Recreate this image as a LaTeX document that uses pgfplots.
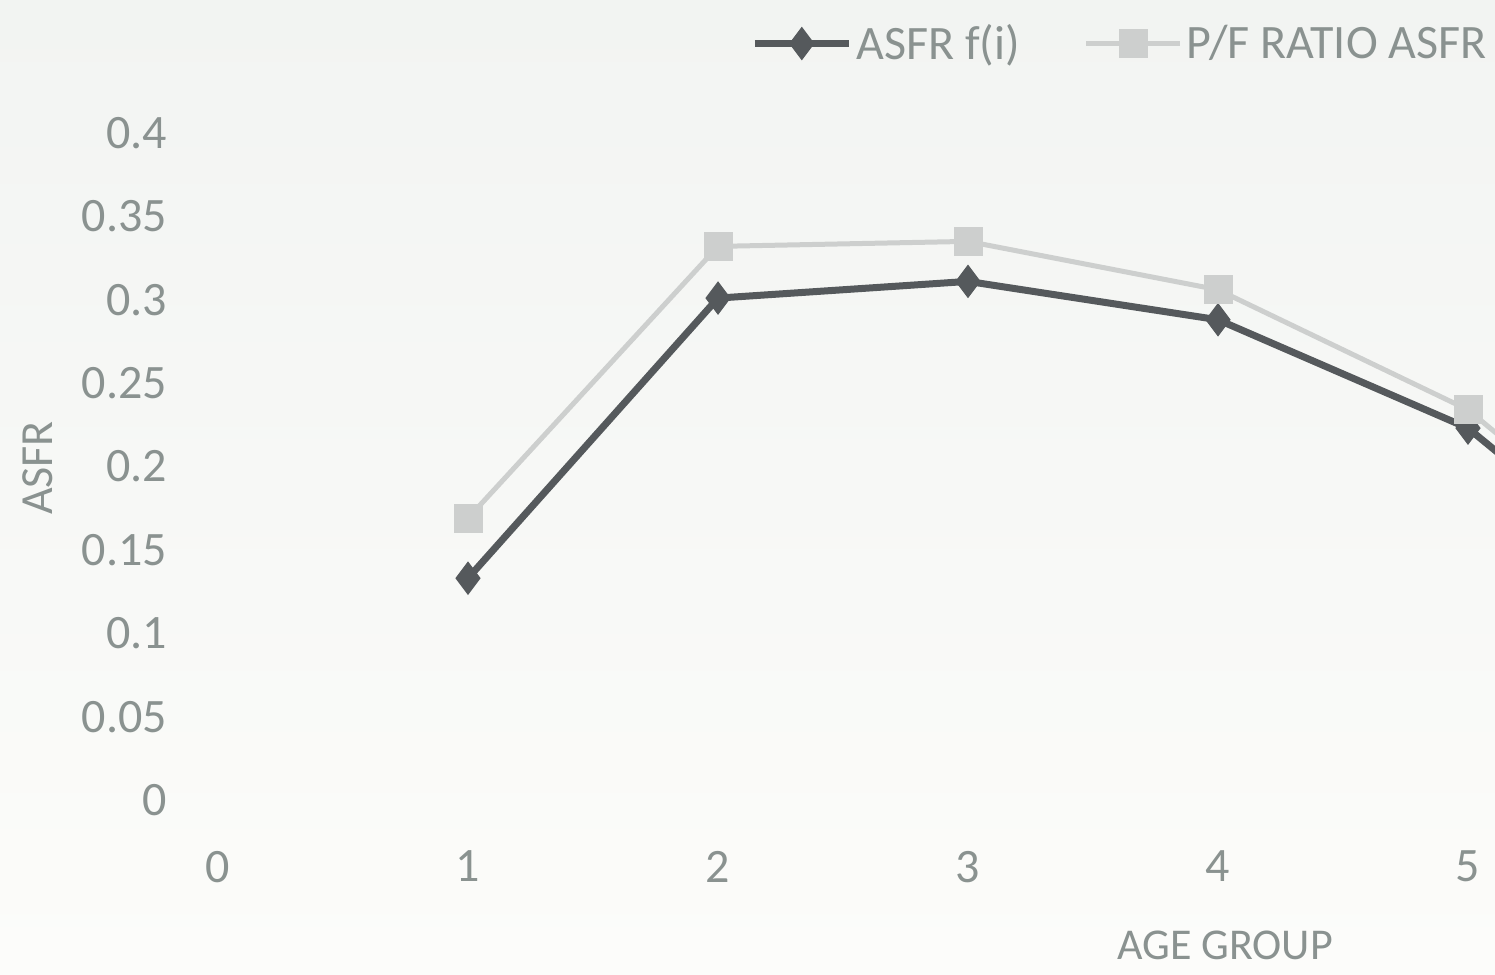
\documentclass[border=0pt]{standalone}
\usepackage{pgfplots}
\pgfplotsset{compat=1.18}
\usepackage{fontspec}
\setmainfont{Carlito}
\definecolor{txt}{HTML}{8A9290}
\definecolor{asfr}{HTML}{55595C}
\definecolor{pf}{HTML}{CDCFCE}
\definecolor{bgtop}{HTML}{F2F4F2}
\definecolor{bgbot}{HTML}{FCFCFA}
\begin{document}
\begin{tikzpicture}
  \useasboundingbox (0pt,0pt) rectangle (747.5pt,487.5pt);
  \shade[top color=bgtop, bottom color=bgbot] (0pt,0pt) rectangle (747.5pt,487.5pt);
  \begin{axis}[
    at={(109pt,87.5pt)}, anchor=south west,
    scale only axis, width=638.5pt, height=333.5pt,
    xmin=0, xmax=5.108, ymin=0, ymax=0.4,
    axis line style={draw=none}, major tick style={draw=none},
    xtick={0,1,2,3,4,5}, ytick={0,0.05,...,0.4},
    yticklabels={0,0.05,0.1,0.15,0.2,0.25,0.3,0.35,0.4},
    /pgf/number format/assume math mode=true,
    ticklabel style={font=\fontsize{24}{28}\selectfont, text=txt},
    xticklabel style={anchor=north, yshift=-22pt},
    yticklabel style={anchor=east, xshift=-22pt},
    legend style={at={(1,1)}, anchor=south east, yshift=31pt, xshift=1pt,
      draw=none, fill=none, font=\fontsize{24}{28}\selectfont, text=txt,
      legend columns=2, /tikz/every even column/.append style={column sep=30pt}},
    legend image code/.code={
      \draw[#1] (0cm,0cm) -- (1.65cm,0cm);
      \draw[#1, only marks] plot coordinates {(0.825cm,0cm)};
    },
  ]
    \addplot[asfr, line width=3.5pt, mark=diamond*, mark size=8pt,
      mark options={fill=asfr, draw=asfr, line width=0.5pt}]
      coordinates {(1,0.133) (2,0.301) (3,0.311) (4,0.288) (5,0.223) (6,0.100)};
    \addlegendentry{ASFR f(i)}
    \addplot[pf, line width=2.5pt, mark=square*, mark size=7pt,
      mark options={fill=pf, draw=pf, line width=0.5pt}]
      coordinates {(1,0.169) (2,0.332) (3,0.335) (4,0.306) (5,0.234) (6,0.110)};
    \addlegendentry{P/F RATIO ASFR}
  \end{axis}
  \node[rotate=90, text=txt, font=\fontsize{23}{26}\selectfont] at (19pt,253.5pt) {ASFR};
  \node[text=txt, font=\fontsize{22}{26}\selectfont] at (612.5pt,15pt) {AGE GROUP};
\end{tikzpicture}
\end{document}
